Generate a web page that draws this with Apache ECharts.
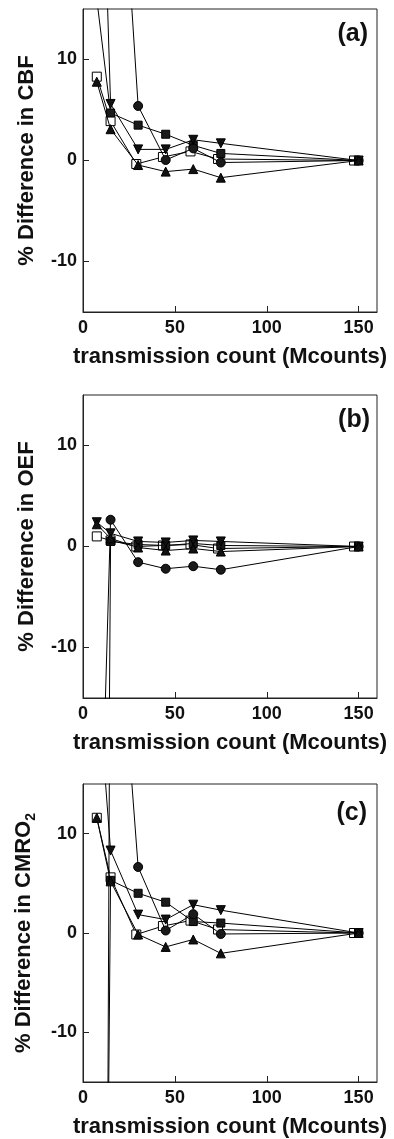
<!DOCTYPE html>
<html>
<head>
<meta charset="utf-8">
<script src="https://cdn.jsdelivr.net/npm/echarts@6/dist/echarts.min.js"></script>
<style>
html,body{margin:0;padding:0;background:#fff;}
#chart{width:394px;height:1139px;}
</style>
</head>
<body>
<div id="chart"></div>
<script>
// ---- data ----
const counts = [7.5, 15, 30, 45, 60, 75, 150];               // transmission count (Mcounts)
const openSquareCounts = [7.5, 15, 29, 43.5, 58.5, 73.5, 147.5]; // open squares plotted slightly left
const xTicks = [0, 50, 100, 150];
const yTicks = [-10, 0, 10];
const panelLabels = ['(a)', '(b)', '(c)'];
const yTitles = ['% Difference in CBF', '% Difference in OEF', '% Difference in CMRO{s|2}'];
const xTitle = 'transmission count (Mcounts)';

// (a) CBF
const cbfOpenSquare   = [8.3, 3.9, -0.35, 0.35, 0.9, 0.15, 0];
const cbfFilledSquare = [16, 4.7, 3.5, 2.6, 1.5, 0.7, 0];
const cbfCircle       = [null, 47.7, 5.4, 0.05, 1.2, -0.2, 0];
const cbfTriUp        = [7.8, 3.1, -0.45, -1.1, -0.85, -1.7, 0];
const cbfTriDown      = [50, 5.6, 1.1, 1.1, 2.05, 1.7, 0];

// (b) OEF
const oefOpenSquare   = [1.0, 0.6, 0.0, 0.1, 0.2, -0.2, 0];
const oefFilledSquare = [-200, 0.5, 0.2, 0.1, 0.3, 0.1, 0];
const oefCircle       = [-44.7, 2.65, -1.55, -2.2, -1.95, -2.3, 0];
const oefTriUp        = [2.2, 0.8, -0.1, -0.4, -0.2, -0.5, 0];
const oefTriDown      = [2.4, 1.3, 0.5, 0.4, 0.6, 0.5, 0];

// (c) CMRO2
const cmroOpenSquare   = [11.6, 5.6, -0.15, 0.7, 1.25, 0.35, 0];
const cmroFilledSquare = [-150, 5.3, 4.0, 3.1, 1.15, 1.0, 0];
const cmroCircle       = [-270, 43.6, 6.65, 0.25, 1.9, -0.1, 0];
const cmroTriUp        = [11.6, 5.2, -0.15, -1.4, -0.65, -2.05, 0];
const cmroTriDown      = [26.9, 8.3, 1.85, 1.35, 2.85, 2.3, 0];

const panelData = [
  [cbfOpenSquare, cbfFilledSquare, cbfCircle, cbfTriUp, cbfTriDown],
  [oefOpenSquare, oefFilledSquare, oefCircle, oefTriUp, oefTriDown],
  [cmroOpenSquare, cmroFilledSquare, cmroCircle, cmroTriUp, cmroTriDown]
];

// ---- styling / layout ----
const FONT = '"Liberation Sans", Arial, Helvetica, sans-serif';
const INK = '#111';
const FRAME = '#222';
const grids = [
  {top: 9, height: 303},
  {top: 395, height: 303},
  {top: 784, height: 305}
];
const labelPos = [[368, 34.5], [370, 420.5], [367, 813.5]];

const markerDefs = [
  {symbol: 'rect', size: 9, fill: '#fff', rotate: 0, z: 2, xs: openSquareCounts},
  {symbol: 'rect', size: 8, fill: '#1a1a1a', rotate: 0, z: 3, xs: counts},
  {symbol: 'circle', size: 9, fill: '#1a1a1a', rotate: 0, z: 4, xs: counts},
  {symbol: 'triangle', size: 9, fill: '#111', rotate: 0, z: 6, xs: counts},
  {symbol: 'triangle', size: 9, fill: '#111', rotate: 180, z: 5, xs: counts}
];

const chart = echarts.init(document.getElementById('chart'), null, {renderer: 'canvas'});

const option = {
  animation: false,
  backgroundColor: '#fff',
  grid: grids.map(g => ({
    left: 83, width: 294, top: g.top, height: g.height,
    show: true, borderColor: FRAME, borderWidth: 1, backgroundColor: 'transparent'
  })),
  xAxis: grids.map((g, i) => ({
    gridIndex: i, type: 'value', min: 0, max: 160,
    axisLine: {show: true, onZero: false, lineStyle: {color: FRAME, width: 1}},
    axisTick: {show: true, inside: true, length: 6, customValues: xTicks, lineStyle: {color: FRAME}},
    axisLabel: {customValues: xTicks, margin: 7, fontSize: 18, fontWeight: 'bold', fontFamily: FONT, color: INK},
    splitLine: {show: false},
    name: xTitle, nameLocation: 'middle', nameGap: 34,
    nameTextStyle: {fontSize: 22, fontWeight: 'bold', fontFamily: FONT, color: INK}
  })),
  yAxis: grids.map((g, i) => ({
    gridIndex: i, type: 'value', min: -15, max: 15,
    axisLine: {show: true, onZero: false, lineStyle: {color: FRAME, width: 1}},
    axisTick: {show: true, inside: true, length: 6, customValues: yTicks, lineStyle: {color: FRAME}},
    axisLabel: {customValues: yTicks, margin: 6, fontSize: 18, fontWeight: 'bold', fontFamily: FONT, color: INK},
    splitLine: {show: false},
    name: yTitles[i], nameLocation: 'middle', nameGap: 45,
    nameTextStyle: {
      fontSize: 22, fontWeight: 'bold', fontFamily: FONT, color: INK,
      rich: {s: {fontSize: 14, fontWeight: 'bold', fontFamily: FONT, color: INK, verticalAlign: 'bottom', lineHeight: 28}}
    }
  })),
  graphic: panelLabels.map((t, i) => ({
    type: 'text', x: labelPos[i][0], y: labelPos[i][1], z: 10,
    style: {text: t, align: 'right', verticalAlign: 'middle', font: 'bold 25px ' + FONT, fill: INK}
  })),
  series: []
};

panelData.forEach((setList, p) => {
  setList.forEach((vals, k) => {
    const m = markerDefs[k];
    option.series.push({
      type: 'line',
      xAxisIndex: p, yAxisIndex: p,
      data: vals.map((v, j) => [m.xs[j], v]),
      symbol: m.symbol, symbolSize: m.size, symbolRotate: m.rotate,
      showSymbol: true, connectNulls: false, clip: true,
      z: m.z,
      lineStyle: {color: '#000', width: 1},
      itemStyle: {color: m.fill, borderColor: '#000', borderWidth: 1},
      emphasis: {disabled: true}
    });
  });
});

chart.setOption(option);
</script>
</body>
</html>
